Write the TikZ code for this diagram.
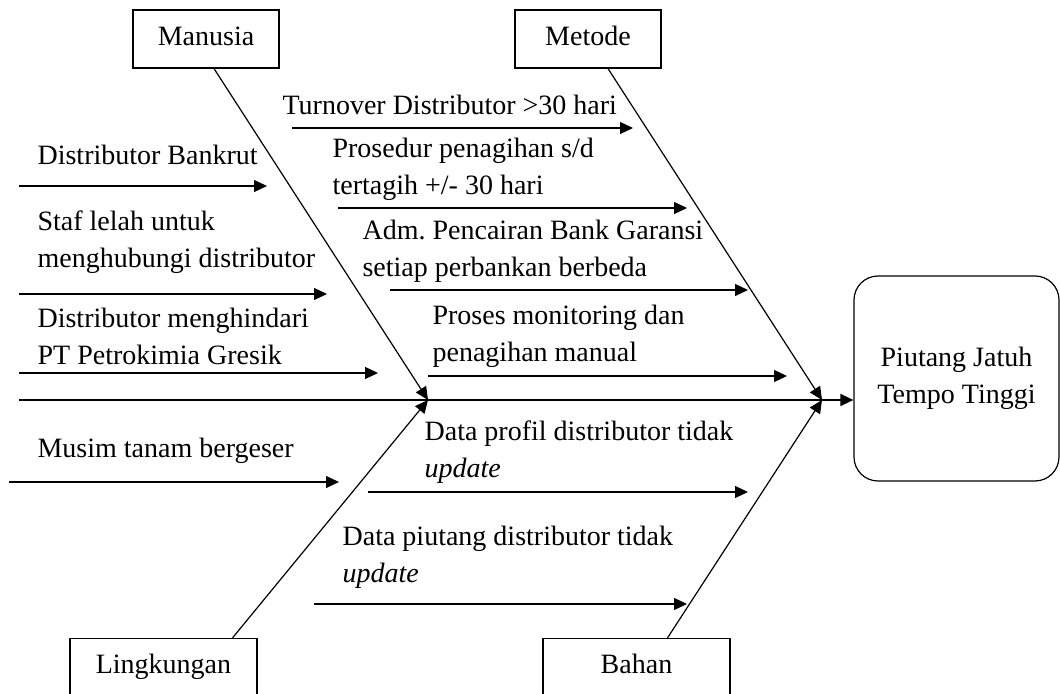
\documentclass[tikz,border=0pt]{standalone}
\usepackage{fontspec}
\setmainfont{Liberation Serif}
\usetikzlibrary{arrows.meta,positioning,calc}
\frenchspacing

\begin{document}
\begin{tikzpicture}[
  x=0.5pt, y=-0.5pt,
  font=\fontsize{14}{18.5}\selectfont,
  line width=0.6pt,
  kategori/.style={draw,minimum width=73pt,minimum height=29pt,inner sep=2pt,
                   text height=9.5pt,text depth=3pt},
  sebab/.style={anchor=base west,align=left,inner sep=0pt},
  panah/.style={-{Triangle[length=6.5pt,width=6pt]}},
  akibat/.style={draw,rounded corners=12pt,minimum width=102.5pt,
                 minimum height=102.5pt,align=center,inner sep=2pt},
]
\useasboundingbox (0,0) rectangle (1060,694);

% kategori dan akibat
\node[kategori] (manusia) at (206,39) {Manusia};
\node[kategori] (metode) at (588,39) {Metode};
\node[kategori,minimum width=93.5pt] (lingkungan) at (163.5,667.5) {Lingkungan};
\node[kategori,minimum width=93.5pt] (bahan) at (636.5,667.5) {Bahan};
\node[akibat] (piutang) at (956.5,378.5) {Piutang Jatuh\\Tempo Tinggi};

% tulang utama
\coordinate (ekor) at (19,400);
\coordinate (temu1) at (428,400);
\coordinate (temu2) at (822,400);
\draw[panah] (ekor) -- (ekor -| piutang.west);
\draw[panah] ([xshift=4pt]manusia.south) -- (temu1);
\draw[panah] ([xshift=10pt]metode.south) -- (temu2);
\draw[panah] ([xshift=34.5pt]lingkungan.north) -- (temu1);
\draw[panah] ([xshift=15.5pt]bahan.north) -- (temu2);

% sebab - manusia
\node[sebab] (bangkrut) at (37,165) {Distributor Bankrut};
\coordinate (m1a) at (19,186); \coordinate (m1b) at (267,186);
\draw[panah] (m1a) -- (m1b);
\node[sebab] (lelah) at (37,268) {Staf lelah untuk\\menghubungi distributor};
\coordinate (m2a) at (19,294); \coordinate (m2b) at (327,294);
\draw[panah] (m2a) -- (m2b);
\node[sebab] (menghindar) at (37,365) {Distributor menghindari\\PT Petrokimia Gresik};
\coordinate (m3a) at (19,373); \coordinate (m3b) at (378,373);
\draw[panah] (m3a) -- (m3b);

% sebab - metode
\node[sebab] (turnover) at (282,115) {Turnover Distributor >30 hari};
\coordinate (t1a) at (292,128); \coordinate (t1b) at (633,128);
\draw[panah] (t1a) -- (t1b);
\node[sebab] (prosedur) at (332,195) {Prosedur penagihan s/d\\tertagih +/- 30 hari};
\coordinate (t2a) at (338,208); \coordinate (t2b) at (687,208);
\draw[panah] (t2a) -- (t2b);
\node[sebab] (garansi) at (362,277) {Adm. Pencairan Bank Garansi\\setiap perbankan berbeda};
\coordinate (t3a) at (390,290); \coordinate (t3b) at (748,290);
\draw[panah] (t3a) -- (t3b);
\node[sebab] (monitoring) at (432,362) {Proses monitoring dan\\penagihan manual};
\coordinate (t4a) at (428,376); \coordinate (t4b) at (787,376);
\draw[panah] (t4a) -- (t4b);

% sebab - lingkungan
\node[sebab] (musim) at (37,458) {Musim tanam bergeser};
\coordinate (l1a) at (9,482); \coordinate (l1b) at (339,482);
\draw[panah] (l1a) -- (l1b);

% sebab - bahan
\node[sebab] (profil) at (424,478) {Data profil distributor tidak\\\textit{update}};
\coordinate (b1a) at (368,492); \coordinate (b1b) at (748,492);
\draw[panah] (b1a) -- (b1b);
\node[sebab] (datapiutang) at (342,582) {Data piutang distributor tidak\\\textit{update}};
\coordinate (b2a) at (314,604); \coordinate (b2b) at (687,604);
\draw[panah] (b2a) -- (b2b);
\end{tikzpicture}
\end{document}
